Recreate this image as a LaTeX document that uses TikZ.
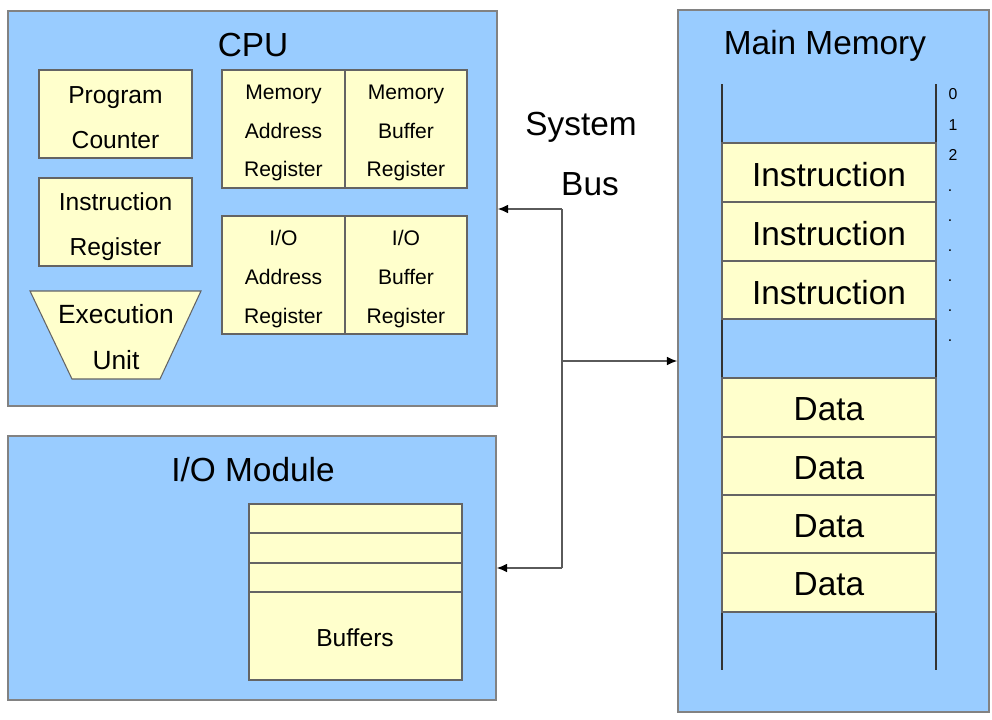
\documentclass[tikz,border=0pt]{standalone}
\usepackage{fontspec}
\setmainfont{Liberation Sans}
\usetikzlibrary{fit,arrows.meta}

\definecolor{unitColor}{RGB}{153,204,255}
\definecolor{regColor}{RGB}{255,255,204}
\definecolor{unitEdge}{RGB}{130,130,130}
\definecolor{regEdge}{RGB}{100,100,100}
\definecolor{busColor}{RGB}{90,90,90}

\begin{document}
\begin{tikzpicture}[x=0.02cm,y=-0.02cm,
  unit/.style={draw=unitEdge,fill=unitColor,line width=0.8pt,inner sep=0pt},
  reg/.style={draw=regEdge,fill=regColor,line width=0.6pt,inner sep=0pt},
  big/.style={font=\fontsize{19}{22}\selectfont},
  cellText/.style={big,yshift=-1.2pt},
  mid/.style={font=\fontsize{14}{25.5}\selectfont,align=center},
  small/.style={font=\fontsize{12}{22.1}\selectfont,align=center,yshift=-2.3pt},
  tiny/.style={font=\fontsize{9}{10}\selectfont},
  bus/.style={draw=busColor,line width=0.7pt},
  busArrow/.style={bus,-{Latex[length=6pt,width=5pt,color=black]}}]
  \useasboundingbox (0,0) rectangle (992,720);
  % CPU
  \node[unit, fit={(8,11) (497,406)}] (cpu) {};
  \node[big] (cpuLabel) at (253,45) {CPU};
  \node[reg, fit={(39,70) (192,158)}] (pc) {};
  \node[mid, yshift=-2.3pt] at (pc.center) {Program\\Counter};
  \node[reg, fit={(39,178) (192,266)}] (ir) {};
  \node[mid, yshift=-2.8pt] at (ir.center) {Instruction\\Register};
  \draw[reg] (30,291) -- (201,291) -- (160,379) -- (72,379) -- cycle;
  \node[font=\fontsize{15}{26.6}\selectfont, align=center] (eu) at (116,337) {Execution\\Unit};
  \node[reg, fit={(222,70) (345,188)}] (mar) {};
  \node[small] at (mar.center) {Memory\\Address\\Register};
  \node[reg, fit={(345,70) (467,188)}] (mbr) {};
  \node[small] at (mbr.center) {Memory\\Buffer\\Register};
  \node[reg, fit={(222,216) (345,334)}] (ioar) {};
  \node[small] at (ioar.center) {I/O\\Address\\Register};
  \node[reg, fit={(345,216) (467,334)}] (iobr) {};
  \node[small] at (iobr.center) {I/O\\Buffer\\Register};
  % I/O module
  \node[unit, fit={(8,436) (496,700)}] (io) {};
  \node[big] (ioLabel) at (253,470) {I/O Module};
  \node[reg, fit={(249,504) (462,533)}] (buf1) {};
  \node[reg, fit={(249,533) (462,563)}] (buf2) {};
  \node[reg, fit={(249,563) (462,592)}] (buf3) {};
  \node[reg, fit={(249,592) (462,680)}] (buf4) {};
  \node[mid] at (355,638) {Buffers};
  % Main memory
  \node[unit, fit={(678,10) (989,712)}] (mem) {};
  \node[big] (memLabel) at (825,46) {Main Memory};
  \draw[draw=black!80, line width=0.6pt] (722,84) -- (722,670);
  \draw[draw=black!80, line width=0.6pt] (936,84) -- (936,670);
  \node[reg, fit={(722,143) (936,202)}] (ins1) {};
  \node[cellText] at (ins1.center) {Instruction};
  \node[reg, fit={(722,202) (936,261)}] (ins2) {};
  \node[cellText] at (ins2.center) {Instruction};
  \node[reg, fit={(722,261) (936,319)}] (ins3) {};
  \node[cellText] at (ins3.center) {Instruction};
  \node[reg, fit={(722,378) (936,437)}] (data1) {};
  \node[cellText] at (data1.center) {Data};
  \node[reg, fit={(722,437) (936,495)}] (data2) {};
  \node[cellText] at (data2.center) {Data};
  \node[reg, fit={(722,495) (936,553)}] (data3) {};
  \node[cellText] at (data3.center) {Data};
  \node[reg, fit={(722,553) (936,612)}] (data4) {};
  \node[cellText] at (data4.center) {Data};
  % Addresses
  \node[tiny] (addr0) at (953,94) {0};
  \node[tiny] (addr1) at (953,125) {1};
  \node[tiny] (addr2) at (953,155) {2};
  \node[tiny] (dot1) at (950,191) {.};
  \node[tiny] (dot2) at (950,221) {.};
  \node[tiny] (dot3) at (950,251) {.};
  \node[tiny] (dot4) at (950,281) {.};
  \node[tiny] (dot5) at (950,311) {.};
  \node[tiny] (dot6) at (950,341) {.};
  % System bus
  \node[big] (sysLabel) at (581,127) {System};
  \node[big] (busLabel) at (590,184) {Bus};
  \coordinate (busTop) at (562,209);
  \coordinate (busMid) at (562,361);
  \coordinate (busBot) at (562,568);
  \draw[bus] (busTop) -- (busBot);
  \draw[busArrow] (busTop) -- (busTop -| cpu.east);
  \draw[busArrow] (busBot) -- (busBot -| io.east);
  \draw[busArrow] (busMid) -- (busMid -| mem.west);
\end{tikzpicture}
\end{document}
